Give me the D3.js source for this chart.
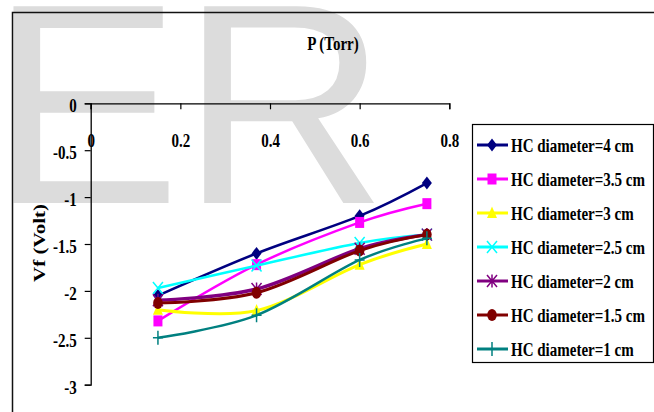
<!DOCTYPE html>
<html>
<head>
<meta charset="utf-8">
<script src="https://cdn.jsdelivr.net/npm/d3@7"></script>
<style>
  body { margin: 0; background: #fff; }
  text { font-family: "Liberation Serif", "Times New Roman", serif; font-weight: bold; }
</style>
</head>
<body>
<div id="chart"></div>
<script>
// pressure values (x) and floating potential (y) for each hollow cathode size
const pressure = [0.15, 0.37, 0.6, 0.75];
const hc4 = [-2.05, -1.6, -1.2, -0.85];
const hc35 = [-2.32, -1.72, -1.27, -1.07];
const hc3 = [-2.2, -2.21, -1.72, -1.5];
const hc25 = [-1.97, -1.73, -1.49, -1.4];
const hc2 = [-2.1, -1.98, -1.55, -1.4];
const hc15 = [-2.13, -2.02, -1.57, -1.4];
const hc1 = [-2.5, -2.26, -1.67, -1.44];
const seriesNames = ["HC diameter=4 cm", "HC diameter=3.5 cm", "HC diameter=3 cm",
  "HC diameter=2.5 cm", "HC diameter=2 cm", "HC diameter=1.5 cm", "HC diameter=1 cm"];
const xTicks = [0, 0.2, 0.4, 0.6, 0.8];
const yTicks = [0, -0.5, -1, -1.5, -2, -2.5, -3];

const allSeries = [hc4, hc35, hc3, hc25, hc2, hc15, hc1];
const colors = ["#000080", "#ff00ff", "#ffff00", "#00ffff", "#800080", "#800000", "#008080"];
const markers = ["diamond", "square", "triangle", "x", "star", "circle", "plus"];
const widths = [2.5, 2.5, 3, 2.5, 3.5, 3, 2.5];

const w = 654, h = 412;
const sx = 0.79; // text in the picture is squeezed horizontally

const svg = d3.select("#chart").append("svg")
  .attr("width", w)
  .attr("height", h);

// watermark
svg.append("text")
  .attr("x", -10)
  .attr("y", 203)
  .style("font-family", "'Liberation Sans', Arial, sans-serif")
  .style("font-weight", "normal")
  .style("font-size", "286px")
  .attr("fill", "#dcdcdc")
  .text("ER");

// outer frame (only top and left visible)
svg.append("path")
  .attr("d", "M12.5,412 L12.5,12.5 L654,12.5")
  .attr("fill", "none")
  .attr("stroke", "#111")
  .attr("stroke-width", 1.5);

var x = d3.scaleLinear().domain([0, 0.8]).range([90.7, 449.3]);
var y = d3.scaleLinear().domain([-3, 0]).range([384.7, 103.3]);

// x axis sits at y = 0, labels below
var xAxis = svg.append("g")
  .attr("transform", "translate(0," + y(0) + ")")
  .call(d3.axisBottom(x).tickValues(xTicks).tickSize(6).tickPadding(24).tickFormat(d => String(d)));
xAxis.select(".domain").attr("stroke", "#000").attr("stroke-width", 1.3);
xAxis.selectAll(".tick line").attr("stroke", "#000").attr("stroke-width", 1.2);
xAxis.selectAll("text")
  .style("font-size", "19px")
  .attr("fill", "#000")
  .attr("transform", "scale(" + sx + ",1)");

var yAxis = svg.append("g")
  .attr("transform", "translate(" + x(0) + ",0)")
  .call(d3.axisLeft(y).tickValues(yTicks).tickSize(6).tickFormat(d => String(d)));
yAxis.select(".domain").attr("stroke", "#000").attr("stroke-width", 1.3);
yAxis.selectAll(".tick line").attr("stroke", "#000").attr("stroke-width", 1.2);
yAxis.selectAll("text")
  .style("font-size", "19px")
  .attr("fill", "#000")
  .attr("x", 0)
  .attr("dy", "0.45em")
  .attr("transform", "translate(-14,0) scale(" + sx + ",1)");

// axis titles
svg.append("text")
  .attr("transform", "translate(333,50) scale(" + sx + ",1)")
  .attr("text-anchor", "middle")
  .style("font-size", "19px")
  .text("P (Torr)");

svg.append("text")
  .attr("transform", "translate(45,243) scale(" + sx + ",1) rotate(-90)")
  .attr("text-anchor", "middle")
  .style("font-size", "21px")
  .text("Vf (Volt)");

function drawMarker(g, type, color) {
  if (type == "diamond") {
    g.append("path").attr("d", "M0,-6.5L5,0L0,6.5L-5,0Z").attr("fill", color);
  } else if (type == "square") {
    g.append("rect").attr("x", -4.5).attr("y", -5.5).attr("width", 9).attr("height", 11).attr("fill", color);
  } else if (type == "triangle") {
    g.append("path").attr("d", "M0,-6.5L5,5L-5,5Z").attr("fill", color);
  } else if (type == "circle") {
    g.append("ellipse").attr("rx", 4.8).attr("ry", 6).attr("fill", color);
  } else {
    var d = "";
    if (type == "x" || type == "star") d += "M-5,-6L5,6M5,-6L-5,6";
    if (type == "star") d += "M0,-6.5L0,6.5";
    if (type == "plus") d += "M0,-7L0,7M-5,0L5,0";
    g.append("path").attr("d", d).attr("fill", "none").attr("stroke", color).attr("stroke-width", 1.5);
  }
}

var line = d3.line()
  .x((d, i) => x(pressure[i]))
  .y(d => y(d))
  .curve(d3.curveCardinal.tension(0));

allSeries.forEach(function (vals, si) {
  var g = svg.append("g");
  g.append("path")
    .datum(vals)
    .attr("d", line)
    .attr("fill", "none")
    .attr("stroke", colors[si])
    .attr("stroke-width", widths[si]);
  vals.forEach(function (v, i) {
    var m = g.append("g").attr("transform", "translate(" + x(pressure[i]) + "," + y(v) + ")");
    drawMarker(m, markers[si], colors[si]);
  });
});

// legend
var legend = svg.append("g");
legend.append("rect")
  .attr("x", 472.5).attr("y", 124.5)
  .attr("width", 181).attr("height", 238)
  .attr("fill", "#fff")
  .attr("stroke", "#000")
  .attr("stroke-width", 1.2);

seriesNames.forEach(function (name, i) {
  var cy = 145 + i * 34;
  var row = legend.append("g");
  row.append("line")
    .attr("x1", 477).attr("x2", 508)
    .attr("y1", cy).attr("y2", cy)
    .attr("stroke", colors[i])
    .attr("stroke-width", 3);
  drawMarker(row.append("g").attr("transform", "translate(492," + cy + ")"), markers[i], colors[i]);
  row.append("text")
    .attr("transform", "translate(511," + (cy + 6.5) + ") scale(" + sx + ",1)")
    .style("font-size", "19px")
    .text(name);
});
</script>
</body>
</html>
